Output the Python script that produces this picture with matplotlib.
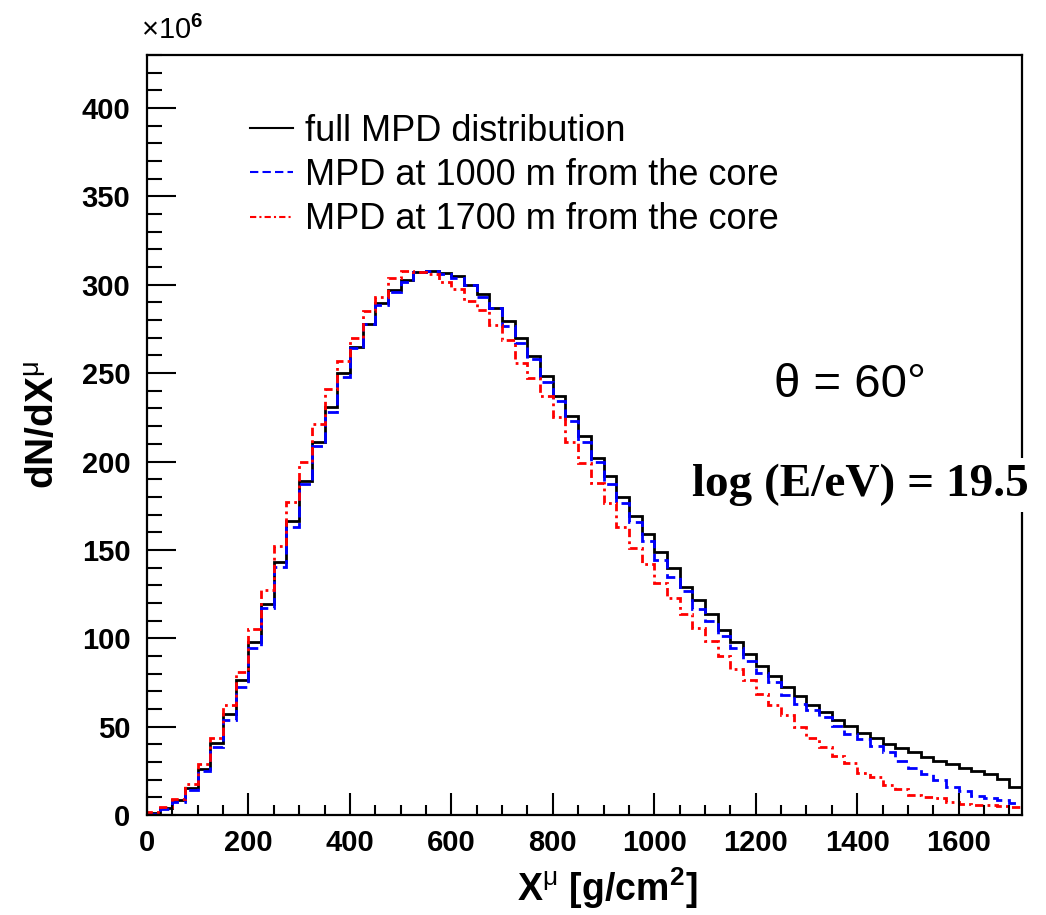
import numpy as np
import matplotlib
matplotlib.use('Agg')
import matplotlib.pyplot as plt
from matplotlib.ticker import MultipleLocator

#bin edges in g/cm2, 25 g/cm2 wide
binEdges = np.arange(0, 1750, 25)

#dN/dX values (x10^6) per bin
fullMPD = [1.0, 3.8, 8.5, 15, 26, 41, 57, 76.5, 98, 119.5,
	143, 166.6, 189, 211, 231, 250, 264.6, 278, 289.5, 297,
	302.6, 307, 307.7, 306.4, 304.7, 299.7, 295, 287, 279.5, 270,
	259.5, 248.5, 237, 226, 214.7, 202, 192, 180, 169.4, 159,
	148.6, 140, 129, 121.5, 113.9, 104.8, 98, 91, 84.4, 78.4,
	72.7, 67.4, 62.3, 58.2, 53.8, 50.4, 46.6, 43.4, 40.2, 37.8,
	35.5, 33, 30.8, 28.7, 26.4, 25.1, 23, 20.2, 16]
mpd1000 = [0.8, 3.2, 7.5, 14, 25, 38.5, 54, 72.5, 94.5, 117,
	140.5, 163, 187.5, 209, 228, 248, 264, 277.6, 288.5, 296,
	301.5, 307, 307.7, 306, 304, 299.7, 293, 287, 276.5, 267,
	258, 245, 234, 222.7, 211, 199.5, 187, 176.8, 166, 154.8,
	144.5, 134.6, 126.5, 116.5, 109.5, 101.4, 94.4, 86.9, 80.6, 75.5,
	68, 62.9, 59.5, 55.7, 50.4, 45.7, 42.9, 39.3, 35.9, 30.8,
	26.4, 23.2, 19.8, 15.7, 13.8, 10.8, 9.4, 8.5, 7]
mpd1700 = [1.5, 4.5, 9, 17.5, 29, 43.6, 62, 81, 105, 127.5,
	152, 177, 199.5, 221.5, 241, 257, 270, 285, 293, 304,
	307.6, 307, 306, 301.6, 297.5, 290.6, 286, 277, 269, 255.5,
	247, 237, 225, 211, 199, 188, 176.7, 163, 151, 142,
	131, 123, 114, 106, 98.2, 90, 82.5, 76.5, 68.6, 62.3,
	56.3, 50, 43.4, 38.7, 33.4, 29.3, 24, 21.7, 17, 14.5,
	11.3, 10.4, 9.4, 7.2, 6.2, 5.7, 5.7, 5.1, 4.4]
labels = ['full MPD distribution', 'MPD at 1000 m from the core', 'MPD at 1700 m from the core']

def main():
	plt.rcParams['font.family'] = ['Liberation Sans', 'DejaVu Sans']
	plt.rcParams['mathtext.fontset'] = 'custom'
	plt.rcParams['mathtext.rm'] = 'Liberation Sans'
	plt.rcParams['mathtext.bf'] = 'Liberation Sans:bold'
	plt.rcParams['mathtext.it'] = 'Liberation Sans:italic'

	fig = plt.figure(figsize=(10.46, 9.15), dpi=100)
	ax = fig.add_axes([147/1046, 1-815/915, 875/1046, 760/915])

	#histograms, ROOT style
	ax.stairs(fullMPD, binEdges, color='black', linewidth=2, label=labels[0])
	ax.stairs(mpd1000, binEdges, color='blue', linewidth=2, linestyle=(0, (4, 2)), label=labels[1])
	ax.stairs(mpd1700, binEdges, color='red', linewidth=2, linestyle=(0, (3, 1.5, 1, 1.5)), label=labels[2])

	ax.set_xlim(0, 1725)
	ax.set_ylim(0, 430)
	ax.xaxis.set_major_locator(MultipleLocator(200))
	ax.xaxis.set_minor_locator(MultipleLocator(50))
	ax.yaxis.set_major_locator(MultipleLocator(50))
	ax.yaxis.set_minor_locator(MultipleLocator(10))
	ax.tick_params(axis='both', which='both', direction='in', width=1.5, top=False, right=False)
	ax.tick_params(axis='y', which='major', length=21, pad=12)
	ax.tick_params(axis='y', which='minor', length=11)
	ax.tick_params(axis='x', which='major', length=16, pad=10)
	ax.tick_params(axis='x', which='minor', length=7.5)
	for lab in ax.get_xticklabels() + ax.get_yticklabels():
		lab.set_fontsize(21)
		lab.set_fontweight('bold')
	for sp in ax.spines.values():
		sp.set_linewidth(1.6)

	#legend without frame
	leg = ax.legend(loc='upper left', bbox_to_anchor=(0.118, 0.923), frameon=False, fontsize=26,
		handlelength=1.19, handletextpad=0.33, labelspacing=0.26, borderpad=0, borderaxespad=0)
	for line in leg.get_lines():
		line.set_linewidth(1.5)

	#annotations
	fig.text(850/1046, 1-385/915, 'θ = 60°', fontsize=34, ha='center', va='center')
	fig.text(860/1046, 1-485/915, 'log (E/eV) = 19.5', fontsize=34, fontweight='bold',
		family='Liberation Serif', ha='center', va='center',
		bbox=dict(facecolor='white', edgecolor='none', pad=4))
	fig.text(141/1046, 1-30/915, '×10$^{\\mathbf{6}}$', fontsize=21, ha='left', va='center')

	#axis titles
	fig.text(45/1046, 1-425/915, 'dN/dX$^{\\mathrm{μ}}$', fontsize=28, fontweight='bold',
		rotation=90, ha='center', va='center')
	fig.text(607/1046, 1-888/915, 'X$^{\\mathrm{μ}}$ [g/cm$^{\\mathbf{2}}$]', fontsize=27,
		fontweight='bold', ha='center', va='center')

	fig.savefig('out.png', dpi=100)
#enddef main

if __name__ == '__main__':
	main()
